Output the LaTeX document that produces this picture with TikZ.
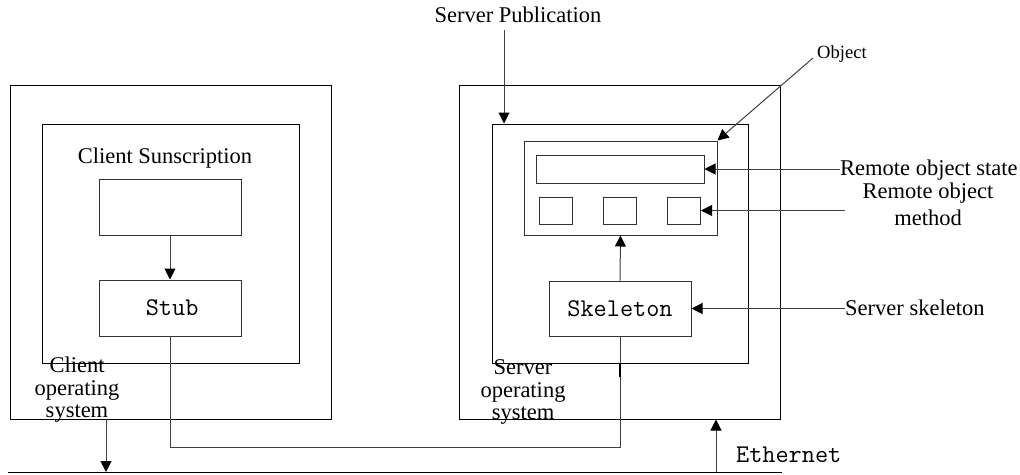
\documentclass[tikz,border=0pt]{standalone}
\usepackage{fontspec}
\setmainfont{Liberation Serif}
\usetikzlibrary{arrows.meta}
\begin{document}
\begin{tikzpicture}[x=1pt,y=-1pt,
  box/.style={draw=black,line width=1pt,inner sep=0pt,minimum width=#1},
  gbox/.style={draw=black!80,line width=1pt,inner sep=0pt},
  lbl/.style={inner sep=0pt,font=\fontsize{22.5}{23}\selectfont},
  mono/.style={font=\ttfamily\fontsize{25.5}{26}\selectfont},
  conn/.style={draw=black!75,line width=1pt},
  arr/.style={conn,-{Triangle[length=11pt,width=11pt,color=black,fill=black]}}]
\useasboundingbox (0,0) rectangle (1020,474);
% left side
\node[box=321pt,minimum height=334pt] (louter) at (170.5,252) {};
\node[box=257pt,minimum height=239pt] (linner) at (170.5,243.5) {};
\node[gbox,minimum width=142pt,minimum height=56pt] (top) at (170,207) {};
\node[gbox,minimum width=142pt,minimum height=56pt,mono] (stub) at (170,308) {\,Stub};
\node[lbl,anchor=base] (csub) at (165,163) {Client Sunscription};
\node[lbl,align=center,font=\fontsize{22.5}{22.5}\selectfont] (cos) at (77,390) {Client\\operating\\system};
% right side
\node[box=321pt,minimum height=334pt] (router) at (619.5,252) {};
\node[box=256pt,minimum height=239pt] (rinner) at (620,243.5) {};
\node[gbox,minimum width=193pt,minimum height=94pt] (obj) at (620.5,188) {};
\node[gbox,minimum width=168pt,minimum height=28pt] (state) at (620,169) {};
\node[gbox,minimum width=33pt,minimum height=27pt] (m1) at (555.5,210.5) {};
\node[gbox,minimum width=33pt,minimum height=27pt] (m2) at (620,210.5) {};
\node[gbox,minimum width=33pt,minimum height=27pt] (m3) at (684,210.5) {};
\node[gbox,minimum width=142pt,minimum height=55pt,mono] (skel) at (620,308.5) {Skeleton};
\node[lbl,align=center,font=\fontsize{22.5}{22.5}\selectfont] (sos) at (523,392) {Server\\operating\\system};
% labels
\node[lbl,anchor=base] (pub) at (518,22) {Server Publication};
\node[lbl,anchor=base west,font=\fontsize{18.6}{20}\selectfont] (objl) at (817,58) {Object};
\node[lbl,anchor=base west] (stl) at (840,175) {Remote object state};
\node[lbl,align=center,font=\fontsize{22.5}{27}\selectfont] (mtl) at (928,204) {Remote object\\method};
\node[lbl,anchor=base west] (skl) at (845,315) {Server skeleton};
\node[inner sep=0pt,anchor=base west,mono] (eth) at (736,462) {Ethernet};
% coordinates
\coordinate (pubs) at (504,30);
\coordinate (objs) at (813,58);
\coordinate (mts) at (845,210.5);
\coordinate (skls) at (845,308.5);
\coordinate (wl) at (170,447);
\coordinate (wr) at (620,447);
\coordinate (e1) at (8,472);
\coordinate (e2) at (782,472);
\coordinate (cosa) at (106,419);
\coordinate (etha) at (716,472);
% connectors
\draw[arr] (top.south) -- (stub.north);
\draw[conn] (stub.south) -- (wl) -- (wr) -- (skel.south);
\draw[line width=2pt] (620,363) -- (620,377);
\draw[arr] (skel.north) -- (obj.south);
\draw[arr] (pubs) -- (pubs |- rinner.north);
\draw[arr] (objs) -- (obj.north east);
\draw[arr] (stl.west |- state.east) -- (state.east);
\draw[arr] (mts) -- (m3.east);
\draw[arr] (skls) -- (skel.east);
\draw[line width=1pt] (e1) -- (e2);
\draw[arr] (cosa) -- (cosa |- e1);
\draw[arr] (etha) -- (etha |- router.south);
\end{tikzpicture}
\end{document}
